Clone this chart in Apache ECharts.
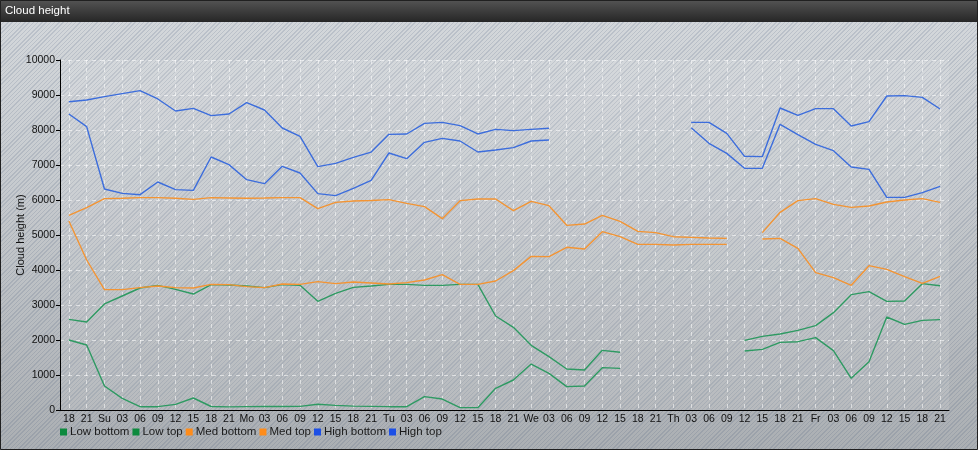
<!DOCTYPE html>
<html>
<head>
<meta charset="utf-8">
<script src="https://cdn.jsdelivr.net/npm/echarts@6/dist/echarts.min.js"></script>
<style>
html,body{margin:0;padding:0;}
#chart{width:978px;height:450px;
background:
 repeating-linear-gradient(135deg, rgba(110,125,150,0.22) 0px, rgba(110,125,150,0.22) 1px, rgba(255,255,255,0.06) 1px, rgba(255,255,255,0.06) 3px),
 linear-gradient(to bottom, #d2d6da 0%, #c4c8cc 40%, #a6aaae 100%);}
</style>
</head>
<body>
<div id="chart"></div>
<script>
var categories = ['18','21','Su','03','06','09','12','15','18','21','Mo','03','06','09','12','15','18','21','Tu','03','06','09','12','15','18','21','We','03','06','09','12','15','18','21','Th','03','06','09','12','15','18','21','Fr','03','06','09','12','15','18','21'];

var lowBottom = [2000,1857,686,333,95,95,162,343,100,90,95,100,100,105,165,133,110,105,95,95,381,314,67,67,619,857,1314,1048,667,686,1210,1190,null,null,null,null,null,null,1686,1733,1933,1952,2067,1695,905,1381,2657,2448,2562,2581];
var lowTop = [2590,2514,3029,3257,3486,3562,3448,3314,3581,3571,3543,3495,3581,3562,3105,3333,3505,3543,3590,3590,3562,3562,3590,3590,2686,2362,1848,1524,1171,1143,1705,1648,null,null,null,null,null,null,1990,2105,2171,2276,2410,2781,3295,3381,3105,3114,3610,3552];
var medBottom = [5400,4286,3438,3438,3495,3543,3495,3486,3590,3581,3524,3495,3600,3590,3667,3610,3657,3630,3600,3638,3714,3867,3590,3590,3686,3981,4390,4381,4648,4600,5095,4952,4733,4733,4714,4733,4733,4733,null,4886,4905,4619,3924,3781,3562,4124,4019,3810,3619,3819];
var medTop = [5562,5781,6038,6048,6067,6067,6048,6019,6067,6057,6048,6057,6067,6067,5752,5933,5971,5985,6010,5905,5810,5467,5981,6029,6029,5695,5962,5838,5276,5314,5562,5390,5105,5067,4952,4933,4914,4905,null,5067,5648,5981,6038,5876,5790,5829,5943,6000,6038,5933];
var highBottom = [8457,8095,6314,6190,6152,6514,6295,6276,7229,7010,6581,6467,6962,6771,6181,6124,6333,6560,7343,7181,7648,7762,7686,7371,7429,7495,7686,7714,null,null,null,null,null,null,null,8067,7619,7333,6905,6905,8162,7867,7590,7410,6943,6876,6076,6076,6210,6390];
var highTop = [8809,8857,8952,9038,9124,8886,8543,8619,8410,8457,8781,8571,8057,7819,6952,7048,7219,7370,7876,7886,8190,8219,8124,7886,8019,7981,8019,8048,null,null,null,null,null,null,null,8219,8219,7905,7248,7238,8629,8419,8610,8610,8114,8238,8971,8981,8933,8600];

var seriesNames = ['Low bottom','Low top','Med bottom','Med top','High bottom','High top'];
var seriesData = [lowBottom, lowTop, medBottom, medTop, highBottom, highTop];
var lineColors = ['#2e9a62','#2e9a62','#f39433','#f39433','#3c6ddc','#3c6ddc'];
var iconColors = ['#0d8a3e','#0d8a3e','#ff8c1a','#ff8c1a','#1c4fe6','#1c4fe6'];

var FONT = '"Liberation Sans", Arial, sans-serif';
var chart = echarts.init(document.getElementById('chart'), null, {renderer:'canvas'});

var series = seriesNames.map(function(n, i){
  return {
    name: n, type: 'line', data: seriesData[i], symbol: 'none', connectNulls: false,
    lineStyle: {color: lineColors[i], width: 1.4},
    itemStyle: {color: iconColors[i]},
    emphasis: {disabled: true},
    animation: false, z: 3
  };
});

chart.setOption({
  animation: false,
  backgroundColor: 'transparent',
  textStyle: {fontFamily: FONT},
  graphic: [
    {type:'rect', z:-10, silent:true,
     shape:{x:0, y:0, width:978, height:22},
     style:{fill:new echarts.graphic.LinearGradient(0,0,0,1,[{offset:0,color:'#545454'},{offset:1,color:'#262626'}])}},
    {type:'rect', z:100, silent:true,
     shape:{x:0.5, y:0.5, width:977, height:449},
     style:{fill:null, stroke:'#202020', lineWidth:1}}
  ],
  title: {text:'Cloud height', left:5, top:5, padding:0,
    textStyle:{color:'#ffffff', fontSize:11.5, fontWeight:'normal', fontFamily:FONT}},
  legend: {
    data: seriesNames, left: 60, top: 426, padding: 0,
    icon: 'rect', itemWidth: 7, itemHeight: 7, itemGap: 3,
    textStyle: {fontSize: 11.5, color: '#1a1a1a', fontFamily: FONT, padding: [0,0,0,-2]},
    selectedMode: false
  },
  grid: {left: 60, right: 29, top: 60, bottom: 40, containLabel: false, outerBoundsMode: 'none',
    show: true, backgroundColor: 'rgba(255,255,255,0.10)', borderWidth: 0},
  xAxis: {
    type: 'category', data: categories, boundaryGap: true,
    axisLine: {lineStyle: {color: '#000', width: 1}},
    axisTick: {alignWithLabel: true, length: 4, lineStyle: {color: '#000'}},
    axisLabel: {interval: 0, color: '#111', fontSize: 10.5, margin: 4, fontFamily: FONT},
    splitLine: {show: true, alignWithLabel: true, interval: 0,
      lineStyle: {color: 'rgba(255,255,255,0.55)', type: [4,4], width: 1}}
  },
  yAxis: {
    type: 'value', min: 0, max: 10000, interval: 1000,
    name: 'Cloud height (m)', nameLocation: 'middle', nameGap: 34, nameRotate: 90, nameMoveOverlap: false,
    nameTextStyle: {color: '#111', fontSize: 11, fontFamily: FONT},
    axisLine: {show: true, lineStyle: {color: '#000', width: 1}},
    axisTick: {show: true, length: 4, lineStyle: {color: '#000'}},
    axisLabel: {color: '#111', fontSize: 10.5, margin: 5, fontFamily: FONT,
      formatter: function(v){ return String(v); }},
    splitLine: {show: true, lineStyle: {color: 'rgba(255,255,255,0.55)', type: [4,4], width: 1}}
  },
  series: series
});
</script>
</body>
</html>
